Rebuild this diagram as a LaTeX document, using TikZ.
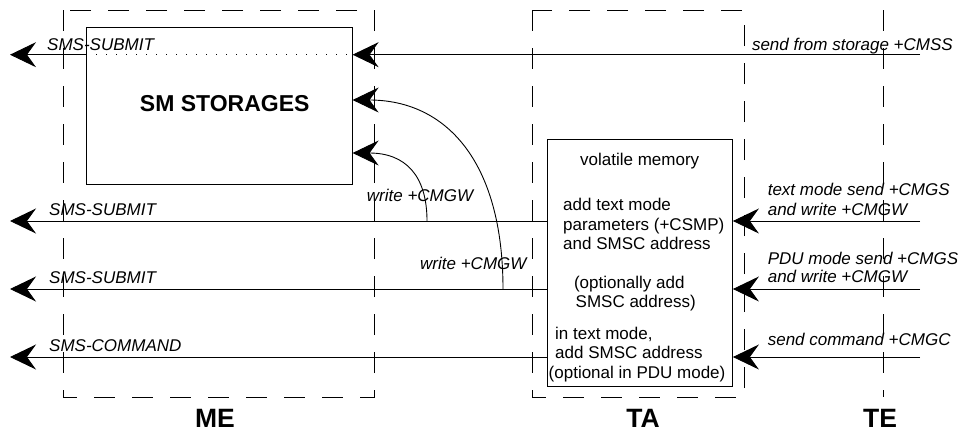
\documentclass[tikz,border=0pt]{standalone}
\usepackage{fontspec}
\setmainfont{Liberation Sans}
\usetikzlibrary{arrows.meta}
\begin{document}
\begin{tikzpicture}[x=1pt,y=-1pt,
  lbl/.style={font=\fontsize{17}{19.5}\selectfont\itshape, inner sep=0pt, anchor=base west},
  vmtxt/.style={font=\fontsize{17}{19.5}\selectfont, inner sep=0pt, anchor=base west},
  big/.style={font=\fontsize{26.5}{30}\selectfont\bfseries, inner sep=0pt, anchor=base},
  arr/.style={line width=0.9pt, -{Stealth[length=26pt,width=25pt,inset=9pt]}},
  framebox/.style={line width=0.9pt, dash pattern=on 21pt off 17pt},
  box/.style={draw, line width=0.9pt, inner sep=0pt, anchor=north west}]
\useasboundingbox (0,0) rectangle (960,432);

% dashed frames
\draw[framebox] (63,10) rectangle (374,397);
\draw[framebox] (532,10) rectangle (744,397);
\draw[framebox] (883,10) -- (883,397);

% boxes
\node[box, minimum width=265.7pt, minimum height=157.3pt] (sm) at (86,26.7) {};
\node[box, fill=white, minimum width=184.6pt, minimum height=247pt] (vm) at (547.4,138.5) {};

\node[font=\fontsize{23}{27}\selectfont\bfseries, inner sep=0pt, anchor=base] (smt) at (224.7,111.7) {SM STORAGES};

% coordinates
\coordinate (lA) at (10,54.7);   \coordinate (rA) at (920,54.7);
\coordinate (lB) at (10,221);    \coordinate (rB) at (920,221);
\coordinate (lC) at (10,289);    \coordinate (rC) at (920,289);
\coordinate (lD) at (10,357);    \coordinate (rD) at (920,357);
\coordinate (cB) at (427,221);   \coordinate (cC) at (503,289);

% top row
\draw[arr] (rA) -- (rA -| sm.east);
\draw[line width=0.9pt, dash pattern=on 1pt off 9pt] (rA -| sm.west) -- (rA -| sm.east);
\draw[arr] (lA -| sm.west) -- (lA);

% rows through volatile memory
\draw[arr] (lB -| vm.west) -- (lB);
\draw[arr] (rB) -- (rB -| vm.east);
\draw[arr] (lC -| vm.west) -- (lC);
\draw[arr] (rC) -- (rC -| vm.east);
\draw[arr] (lD -| vm.west) -- (lD);
\draw[arr] (rD) -- (rD -| vm.east);

% write curves
\draw[arr] (cC) .. controls (503,160) and (445,100) .. (sm.east |- 0,100);
\draw[arr] (cB) .. controls (427,175) and (405,153) .. (sm.east |- 0,153);

% left labels
\node[lbl] (s1) at (47,50) {SMS-SUBMIT};
\node[lbl] (s2) at (49,215) {SMS-SUBMIT};
\node[lbl] (s3) at (49,283) {SMS-SUBMIT};
\node[lbl] (s4) at (49,351) {SMS-COMMAND};

% write labels
\node[lbl] (w1) at (366.7,201) {write +CMGW};
\node[lbl] (w2) at (420,269) {write +CMGW};

% right labels
\node[lbl] (r1) at (751.8,50.3) {send from storage +CMSS};
\node[lbl] (r2a) at (767.6,195.8) {text mode send +CMGS};
\node[lbl] (r2b) at (767.6,215.3) {and write +CMGW};
\node[lbl] (r3a) at (767.6,264) {PDU mode send +CMGS};
\node[lbl] (r3b) at (767.6,282.6) {and write +CMGW};
\node[lbl] (r4) at (767.6,345) {send command +CMGC};

% volatile memory texts
\node[vmtxt] (v0) at (580,165.5) {volatile memory};
\node[vmtxt] (v1) at (563,210.5) {add text mode};
\node[vmtxt] (v2) at (563,230.3) {parameters (+CSMP)};
\node[vmtxt] (v3) at (563,249.5) {and SMSC address};
\node[vmtxt] (v4) at (573.8,288.4) {(optionally add};
\node[vmtxt] (v5) at (575.5,307.7) {SMSC address)};
\node[vmtxt] (v6) at (555,339.8) {in text mode,};
\node[vmtxt] (v7) at (555,358.6) {add SMSC address};
\node[vmtxt] (v8) at (548.5,378.5) {(optional in PDU mode)};

% entity labels
\node[big] (me) at (215,427) {ME};
\node[big] (ta) at (643,427) {TA};
\node[big] (te) at (880,427) {TE};
\end{tikzpicture}
\end{document}
